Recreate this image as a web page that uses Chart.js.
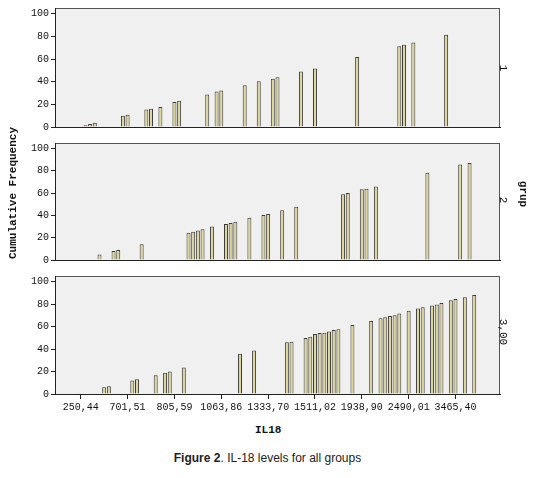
<!DOCTYPE html>
<html>
<head>
<style>
  body { margin: 0; background: #fff; width: 535px; height: 478px; position: relative; overflow: hidden; font-family: "Liberation Sans", Arial, sans-serif; }
  canvas { position: absolute; left: 0; }
  .txt { position: absolute; white-space: nowrap; }
  .mono { font-family: "Liberation Mono", "DejaVu Sans Mono", monospace; font-size: 11px; color: #111; }
</style>
</head>
<body>
<canvas id="c1" style="top:0px"></canvas>
<canvas id="c2" style="top:135px"></canvas>
<canvas id="c3" style="top:268px"></canvas>

<div class="txt mono" style="left:-52px; top:188px; transform:rotate(-90deg); width:130px; text-align:center; font-weight:bold;">Cumulative Frequency</div>
<div class="txt mono" style="left:500px; top:62px; transform:rotate(90deg);">1</div>
<div class="txt mono" style="left:500px; top:194px; transform:rotate(90deg);">2</div>
<div class="txt mono" style="left:490px; top:326px; transform:rotate(90deg);">3,00</div>
<div class="txt mono" style="left:510px; top:188px; transform:rotate(90deg); font-weight:bold;">grup</div>
<div class="txt mono" style="left:255px; top:424px; font-weight:bold;">IL18</div>
<div class="txt" style="left:0; width:535px; top:451px; text-align:center; font-size:12px; color:#222;"><b>Figure 2</b>. IL-18 levels for all groups</div>

<script src="https://cdn.jsdelivr.net/npm/chart.js@4/dist/chart.umd.min.js"></script>
<script>
// IL18 values ranked along one shared categorical axis (95 ordered slots)
const slotCount = 95;
const tickSlots = [5, 15, 25, 35, 45, 55, 65, 75, 85];
const tickLabels = ['250,44', '701,51', '805,59', '1063,86', '1333,70', '1511,02', '1938,90', '2490,01', '3465,40'];

// grup 1
const slots1 = [6, 7, 8, 14, 15, 19, 20, 22, 25, 26, 32, 34, 35, 40, 43, 46, 47, 52, 55, 64, 73, 74, 76, 83];
const freq1 = [1.5, 2.6, 3.8, 9.9, 10.7, 15.4, 16.2, 17.7, 22, 23.2, 28.7, 31.3, 32.2, 36.8, 40.3, 42.6, 43.8, 49, 51.6, 61.7, 71.3, 72.5, 74.5, 81.4];

// grup 2
const slots2 = [9, 12, 13, 18, 28, 29, 30, 31, 33, 36, 37, 38, 41, 44, 45, 48, 51, 61, 62, 65, 66, 68, 79, 86, 88];
const freq2 = [4.9, 8.1, 8.9, 14.1, 24.5, 25.4, 26.5, 27.7, 30, 32.3, 33.1, 34.3, 38, 40.3, 41.2, 44.7, 47.8, 59.1, 60.2, 63.4, 64, 66, 78.4, 85.6, 87];

// grup 3,00
const slots3 = [5, 10, 11, 16, 17, 21, 23, 24, 27, 39, 42, 49, 50, 53, 54, 55, 56, 57, 58, 59, 60, 63, 67, 69, 70, 71, 72, 73, 75, 77, 78, 80, 81, 82, 84, 85, 87, 89];
const freq3 = [0.6, 6.1, 7, 12, 13.1, 16.6, 19, 20.1, 23.6, 35.9, 38.8, 46.1, 46.6, 49.9, 51, 53.4, 54.2, 54.5, 55.7, 56.9, 57.7, 61.5, 65, 67.3, 68.2, 69.4, 70, 71.7, 74, 76.1, 77.3, 78.7, 79.6, 81, 83.4, 84.5, 86, 88];

const labels = Array.from({length: slotCount}, (_, i) => {
  const k = tickSlots.indexOf(i);
  return k >= 0 ? tickLabels[k] : '';
});

function toSeries(slots, freq) {
  const arr = Array(slotCount).fill(null);
  slots.forEach((s, i) => { arr[s] = freq[i]; });
  return arr;
}

const panelBg = {
  id: 'panelBg',
  beforeDraw(chart) {
    const {ctx, chartArea: a} = chart;
    ctx.save();
    ctx.fillStyle = '#f0f0f0';
    ctx.fillRect(a.left, a.top, a.right - a.left, a.bottom - a.top);
    ctx.strokeStyle = '#555';
    ctx.lineWidth = 1;
    ctx.strokeRect(a.left + 0.5, a.top + 0.5, a.right - a.left - 1, a.bottom - a.top);
    ctx.restore();
  }
};

const monoFont = {family: '"Liberation Mono", "DejaVu Sans Mono", monospace', size: 10};

function makePanel(id, height, top, xHeight, slots, freq, showX) {
  const cv = document.getElementById(id);
  cv.width = 535; cv.height = height;
  cv.style.width = '535px'; cv.style.height = height + 'px';
  return new Chart(cv.getContext('2d'), {
    type: 'bar',
    data: {
      labels: labels,
      datasets: [{
        data: toSeries(slots, freq),
        backgroundColor: '#dcd59c',
        borderColor: '#3a3a3a',
        borderWidth: {left: 1, right: 1, top: 1, bottom: 0},
        barPercentage: 0.85,
        categoryPercentage: 1
      }]
    },
    options: {
      responsive: false,
      animation: false,
      layout: {padding: {left: 27, right: 35, top: top, bottom: 0}},
      plugins: {legend: {display: false}, tooltip: {enabled: false}},
      scales: {
        x: {
          afterFit: s => { s.height = xHeight; },
          border: {display: true, color: '#222'},
          grid: {
            offset: false,
            drawOnChartArea: false,
            drawTicks: showX,
            tickLength: 5,
            color: ctx => tickSlots.includes(ctx.index) ? '#222' : 'rgba(0,0,0,0)'
          },
          ticks: {
            display: showX,
            autoSkip: false,
            maxRotation: 0,
            color: '#111',
            font: monoFont,
            padding: 2,
            callback: (v, i) => labels[i]
          }
        },
        y: {
          min: 0, max: 105,
          afterFit: s => { s.width = 28; },
          afterBuildTicks: s => { s.ticks = [0, 20, 40, 60, 80, 100].map(v => ({value: v})); },
          border: {display: true, color: '#222'},
          grid: {drawOnChartArea: false, tickLength: 4, color: '#222'},
          ticks: {color: '#111', font: monoFont, padding: 2}
        }
      }
    },
    plugins: [panelBg]
  });
}

makePanel('c1', 135, 6, 8, slots1, freq1, false);
makePanel('c2', 133, 5, 7, slots2, freq2, false);
makePanel('c3', 150, 5, 24, slots3, freq3, true);
</script>
</body>
</html>
